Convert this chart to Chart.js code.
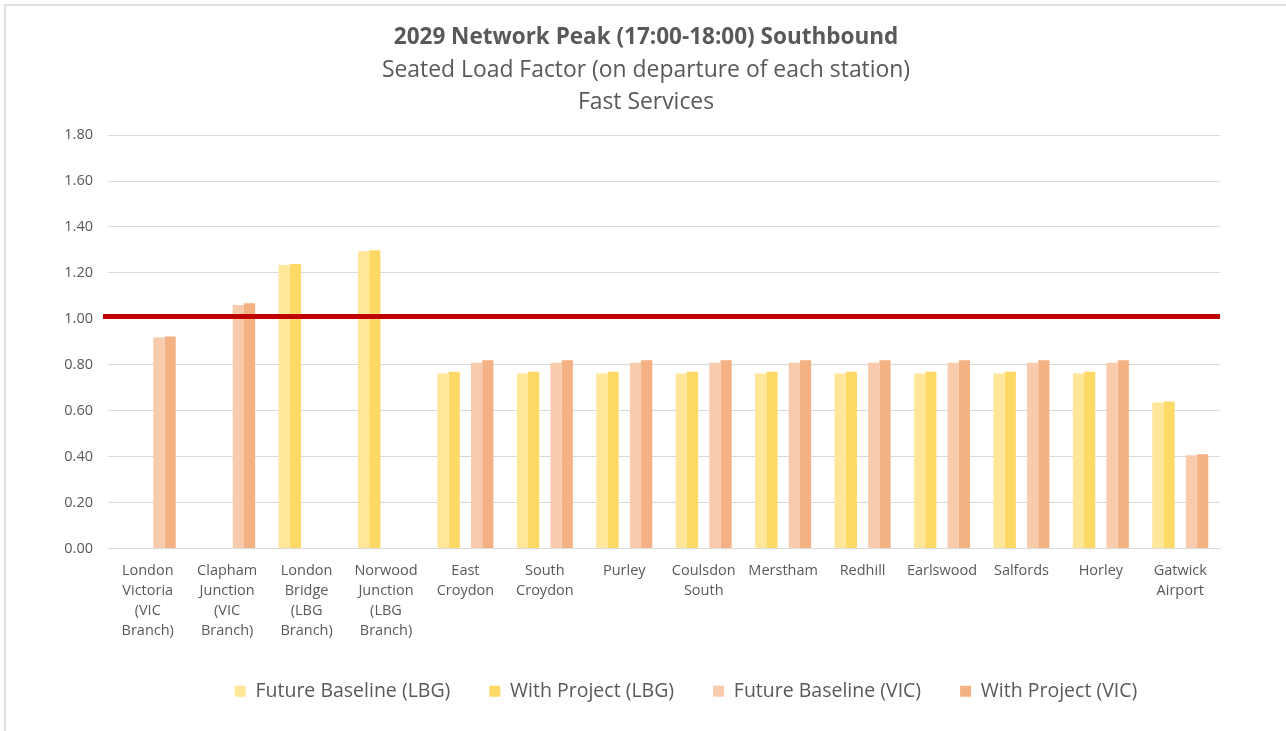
<!DOCTYPE html>
<html>
<head>
<meta charset="utf-8">
<script src="https://cdn.jsdelivr.net/npm/chart.js@4.4.1/dist/chart.umd.min.js"></script>
<style>
  html, body { margin: 0; padding: 0; background: #fff; overflow: hidden; }
  #frame { position: absolute; left: 4px; top: 4px; width: 1300px; height: 740px;
           border-left: 2px solid #e0e0e0; border-top: 2px solid #e0e0e0; }
  #wrap { position: absolute; left: 0; top: 0; width: 1286px; height: 731px; }
</style>
</head>
<body>
<div id="frame"></div>
<div id="wrap"><canvas id="chart"></canvas></div>
<script>
// stations, each label split into the lines Excel wrapped it to
const stations = [
  ['London', 'Victoria', '(VIC', 'Branch)'],
  ['Clapham', 'Junction', '(VIC', 'Branch)'],
  ['London', 'Bridge', '(LBG', 'Branch)'],
  ['Norwood', 'Junction', '(LBG', 'Branch)'],
  ['East', 'Croydon'],
  ['South', 'Croydon'],
  ['Purley'],
  ['Coulsdon', 'South'],
  ['Merstham'],
  ['Redhill'],
  ['Earlswood'],
  ['Salfords'],
  ['Horley'],
  ['Gatwick', 'Airport']
];

const baselineLBG = [null, null, 1.235, 1.294, 0.762, 0.762, 0.762, 0.762, 0.762, 0.762, 0.762, 0.762, 0.762, 0.636];
const projectLBG  = [null, null, 1.239, 1.299, 0.770, 0.770, 0.770, 0.770, 0.770, 0.770, 0.770, 0.770, 0.770, 0.640];
const baselineVIC = [0.919, 1.060, null, null, 0.809, 0.809, 0.809, 0.809, 0.809, 0.809, 0.809, 0.809, 0.809, 0.406];
const projectVIC  = [0.923, 1.068, null, null, 0.820, 0.820, 0.820, 0.820, 0.820, 0.820, 0.820, 0.820, 0.820, 0.410];

const yTicks = [0, 0.2, 0.4, 0.6, 0.8, 1.0, 1.2, 1.4, 1.6, 1.8];
const capacityLine = 1.01;

const textColor = '#595959';
const fontFamily = "'Open Sans', 'Noto Sans', sans-serif";

// red seated-capacity line drawn across the plot
const capacityPlugin = {
  id: 'capacity',
  afterDatasetsDraw(chart) {
    const ctx = chart.ctx;
    const y = chart.scales.y.getPixelForValue(capacityLine);
    ctx.save();
    ctx.strokeStyle = '#C00000';
    ctx.lineWidth = 5;
    ctx.beginPath();
    ctx.moveTo(chart.chartArea.left - 5, y);
    ctx.lineTo(chart.chartArea.right, y);
    ctx.stroke();
    ctx.restore();
  }
};

// titles are centred on the whole frame, the legend sits a bit further right
const boxShift = {
  id: 'boxShift',
  afterLayout(chart) {
    chart.boxes.forEach(b => {
      if (b.position === 'top') { b.left += 36; b.right += 36; }
    });
    chart.legend.left += 76;
    chart.legend.right += 76;
  }
};

new Chart(document.getElementById('chart'), {
  type: 'bar',
  data: {
    labels: stations,
    datasets: [
      { label: 'Future Baseline (LBG)', data: baselineLBG, backgroundColor: '#FFE699' },
      { label: 'With Project (LBG)', data: projectLBG, backgroundColor: '#FFD966' },
      { label: '', data: stations.map(() => null), backgroundColor: 'rgba(0,0,0,0)' },
      { label: 'Future Baseline (VIC)', data: baselineVIC, backgroundColor: '#F8CBAD' },
      { label: 'With Project (VIC)', data: projectVIC, backgroundColor: '#F4B183' }
    ]
  },
  options: {
    responsive: true,
    maintainAspectRatio: false,
    animation: false,
    datasets: { bar: { categoryPercentage: 0.705, barPercentage: 1.0 } },
    layout: { padding: { top: 10, left: 0, right: 66, bottom: 20 } },
    plugins: {
      title: {
        display: true,
        text: '2029 Network Peak (17:00-18:00) Southbound',
        color: textColor,
        font: { family: fontFamily, size: 22.5, weight: 'bold', lineHeight: 1.2 },
        padding: { top: 14.5, bottom: 2.5 }
      },
      subtitle: {
        display: true,
        text: ['Seated Load Factor (on departure of each station)', 'Fast Services'],
        color: textColor,
        font: { family: fontFamily, size: 22.9, lineHeight: 1.4 },
        padding: { top: 0, bottom: 17 }
      },
      legend: {
        position: 'bottom',
        labels: {
          color: textColor,
          font: { family: fontFamily, size: 19.5 },
          boxWidth: 11,
          boxHeight: 11,
          padding: 39,
          filter: item => item.text !== ''
        }
      },
      tooltip: { enabled: false }
    },
    scales: {
      x: {
        grid: { display: false },
        border: { display: true, color: '#D9D9D9', width: 1 },
        ticks: {
          color: textColor,
          font: { family: fontFamily, size: 14.5, lineHeight: 1.38 },
          maxRotation: 0,
          autoSkip: false,
          padding: 4
        },
        afterFit(scale) { scale.height = 94; }
      },
      y: {
        min: 0,
        max: 1.8,
        afterBuildTicks(scale) { scale.ticks = yTicks.map(v => ({ value: v })); },
        grid: { color: '#D9D9D9', lineWidth: 1, drawTicks: false },
        border: { display: false },
        ticks: {
          color: textColor,
          font: { family: fontFamily, size: 14.5 },
          padding: 15,
          callback: v => Number(v).toFixed(2)
        },
        afterFit(scale) { scale.width = 108; }
      }
    }
  },
  plugins: [capacityPlugin, boxShift]
});
</script>
</body>
</html>
